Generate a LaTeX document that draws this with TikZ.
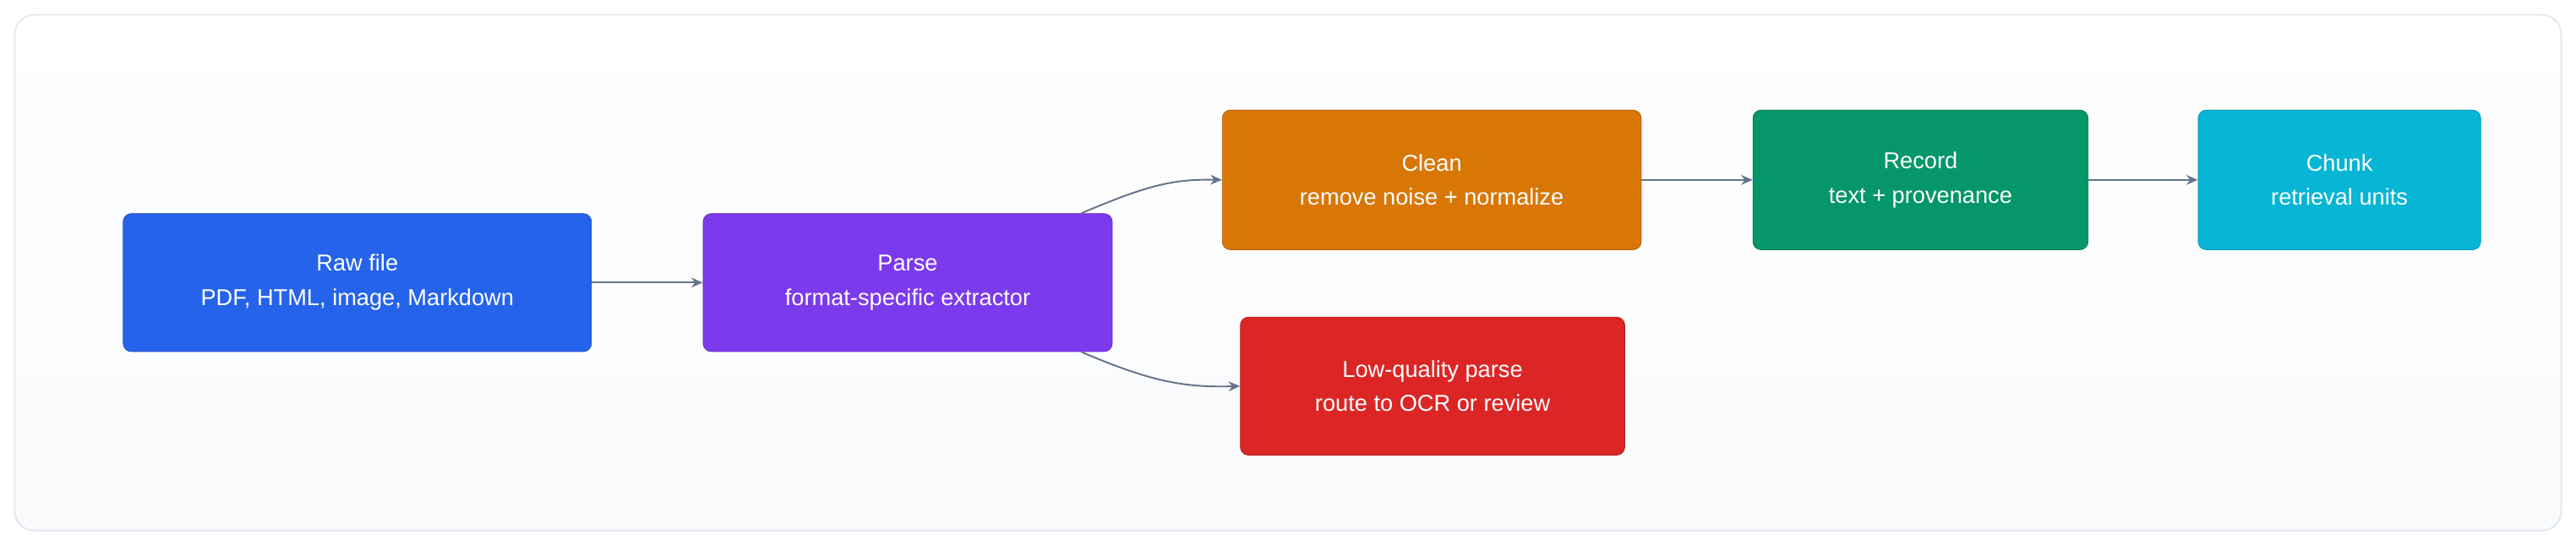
\documentclass[tikz,border=0pt]{standalone}
\usepackage{fontspec}
\setmainfont{Liberation Sans}
\usetikzlibrary{arrows.meta}
\definecolor{cblue}{HTML}{2563EB}
\definecolor{cpurple}{HTML}{7C3AED}
\definecolor{corange}{HTML}{D97706}
\definecolor{cgreen}{HTML}{059669}
\definecolor{ccyan}{HTML}{06B6D4}
\definecolor{cred}{HTML}{DC2626}
\definecolor{edgec}{HTML}{64748B}
\definecolor{framec}{HTML}{E2E8F0}
\definecolor{bgc}{HTML}{F8FAFC}
\begin{document}
\begin{tikzpicture}[x=1pt,y=-1pt,
 box/.style={draw=#1!80!black,fill=#1,rounded corners=5pt,text=white,align=center,font=\fontsize{14}{21}\selectfont,inner sep=0pt},
 arr/.style={draw=edgec,line width=1pt,-{Stealth[length=7pt,width=6pt]}}]
\useasboundingbox (0,0) rectangle (1568,332);
\shade[top color=white,bottom color=bgc,rounded corners=12pt] (9,9) rectangle (1559,323);
\draw[framec,line width=1pt,rounded corners=12pt] (9,9) rectangle (1559,323);
\node[box=cblue,minimum width=285pt,minimum height=84pt] (raw) at (217.5,172) {Raw file\\PDF, HTML, image, Markdown};
\node[box=cpurple,minimum width=249pt,minimum height=84pt] (parse) at (552.5,172) {Parse\\format-specific extractor};
\node[box=corange,minimum width=255pt,minimum height=85pt] (clean) at (871.5,109.5) {Clean\\remove noise + normalize};
\node[box=cgreen,minimum width=204pt,minimum height=85pt] (rec) at (1169,109.5) {Record\\text + provenance};
\node[box=ccyan,minimum width=172pt,minimum height=85pt] (chunk) at (1424,109.5) {Chunk\\retrieval units};
\node[box=cred,minimum width=234pt,minimum height=84pt] (low) at (872,235) {Low-quality parse\\route to OCR or review};
\draw[arr] (raw) -- (parse);
\draw[arr] (parse.north east) ++(-19,0) coordinate (p1) .. controls (700,112) and (715,109) .. (clean.west);
\draw[arr] (parse.south east) ++(-19,0) coordinate (p2) .. controls (700,232) and (720,236) .. (low.west);
\draw[arr] (clean) -- (rec);
\draw[arr] (rec) -- (chunk);
\end{tikzpicture}
\end{document}
